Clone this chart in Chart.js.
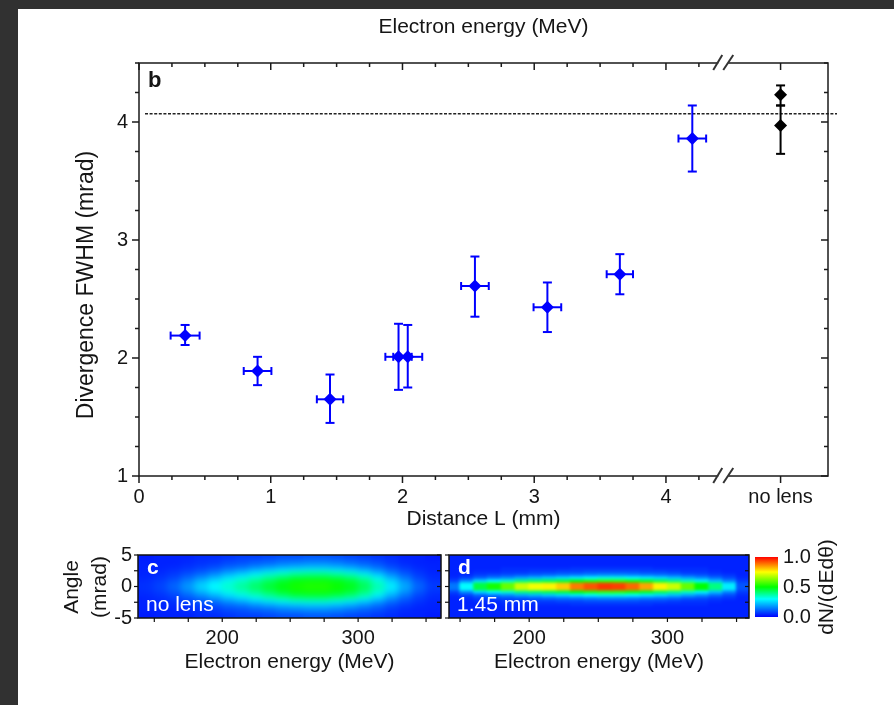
<!DOCTYPE html>
<html>
<head>
<meta charset="utf-8">
<script src="https://cdn.jsdelivr.net/npm/chart.js@4.4.1/dist/chart.umd.min.js"></script>
<style>
html, body { margin: 0; padding: 0; background: #313131; }
#page { position: relative; width: 894px; height: 705px; overflow: hidden; background: #313131; }
#sheet { position: absolute; left: 18px; top: 9px; right: 0; bottom: 0; background: #fff; }
canvas { position: absolute; }
</style>
</head>
<body>
<div id="page">
  <div id="sheet"></div>
  <canvas id="main" width="894" height="540" style="left:0;top:0"></canvas>
  <canvas id="panelC" width="445" height="165" style="left:0;top:540px"></canvas>
  <canvas id="panelD" width="307" height="165" style="left:445px;top:540px"></canvas>
  <canvas id="cbar" width="142" height="165" style="left:752px;top:540px"></canvas>
</div>
<script>
// ---- panel b : divergence vs lens distance ----
var distance   = [0.35, 0.90, 1.45, 1.97, 2.04, 2.55, 3.10, 3.65, 4.20];
var divergence = [2.19, 1.89, 1.65, 2.01, 2.01, 2.61, 2.43, 2.71, 3.86];
var divErrUp   = [0.09, 0.12, 0.21, 0.28, 0.27, 0.25, 0.21, 0.17, 0.28];
var divErrDown = [0.08, 0.12, 0.20, 0.28, 0.26, 0.26, 0.21, 0.17, 0.28];
var distErr    = [0.11, 0.105, 0.10, 0.10, 0.11, 0.105, 0.105, 0.10, 0.105];

var noLensX        = 4.87;
var noLensDiv      = [4.23, 3.97];
var noLensErrUp    = [0.08, 0.17];
var noLensErrDown  = [0.09, 0.24];
var referenceLevel = 4.07;
var breakAt        = 4.45;

var distTicks = [0, 1, 2, 3, 4];
var divTicks  = [1, 2, 3, 4];

// ---- panels c, d : angle vs energy spectra ----
var energyTicks   = [200, 300];
var angleTicks    = [-5, 0, 5];
var colorbarTicks = [0, 0.5, 1];
var energyCenters = [145, 155, 165, 175, 185, 195, 205, 215, 225, 235, 245, 255, 265, 275, 285, 295, 305, 315, 325, 335, 345, 355];
// row edges for |angle| (mrad); image is symmetric about 0
var angleEdges = [0, 0.5, 1, 1.5, 2, 2.5, 3, 4, 5];
var backgroundLevel = 0.04;

var intensityNoLens = [
  [.06,.08,.12,.18,.25,.30,.34,.38,.42,.46,.49,.52,.53,.53,.51,.48,.43,.36,.28,.20,.12,.07],
  [.05,.07,.10,.15,.21,.26,.31,.35,.39,.43,.47,.50,.51,.51,.49,.46,.41,.34,.25,.17,.10,.06],
  [.05,.06,.08,.12,.17,.22,.27,.31,.35,.39,.43,.46,.47,.47,.45,.42,.37,.30,.21,.14,.08,.05],
  [.04,.05,.07,.10,.13,.17,.22,.26,.30,.34,.37,.40,.41,.41,.39,.36,.31,.24,.17,.11,.07,.05],
  [.04,.05,.06,.08,.10,.13,.17,.20,.24,.27,.30,.32,.33,.33,.31,.28,.24,.19,.13,.09,.06,.04],
  [.04,.04,.05,.06,.08,.10,.13,.15,.18,.21,.23,.25,.26,.26,.24,.22,.18,.14,.10,.07,.05,.04],
  [.04,.04,.04,.05,.06,.07,.09,.10,.12,.13,.15,.16,.17,.17,.16,.14,.12,.10,.07,.05,.04,.04],
  [.03,.04,.04,.04,.05,.05,.06,.07,.07,.08,.09,.09,.10,.10,.09,.08,.07,.06,.05,.04,.04,.03]
];
var intensity145mm = [
  [.14,.30,.45,.52,.60,.70,.74,.76,.80,.88,.92,.95,.94,.90,.84,.76,.70,.60,.50,.40,.28,.10],
  [.08,.17,.26,.30,.34,.40,.42,.44,.46,.50,.53,.55,.55,.52,.48,.44,.40,.35,.29,.23,.16,.07],
  [.05,.08,.12,.15,.17,.20,.22,.24,.26,.28,.30,.32,.32,.30,.28,.26,.23,.20,.17,.13,.09,.05],
  [.04,.05,.07,.08,.09,.10,.11,.12,.13,.14,.15,.16,.16,.15,.14,.13,.12,.10,.09,.07,.06,.04],
  [.04,.04,.05,.05,.06,.06,.07,.07,.08,.08,.09,.09,.09,.09,.08,.08,.07,.06,.06,.05,.04,.04],
  [.04,.04,.04,.04,.05,.05,.05,.05,.05,.06,.06,.06,.06,.06,.06,.05,.05,.05,.05,.04,.04,.04],
  [.04,.04,.04,.04,.04,.04,.04,.04,.04,.04,.04,.04,.04,.04,.04,.04,.04,.04,.04,.04,.04,.04],
  [.04,.04,.04,.04,.04,.04,.04,.04,.04,.04,.04,.04,.04,.04,.04,.04,.04,.04,.04,.04,.04,.04]
];

var FONT = "'Liberation Sans', Arial, sans-serif";
var INK = '#151515';

var jetStops = [[0, 0, 0, 255], [0.3, 0, 255, 255], [0.5, 0, 255, 0], [0.75, 255, 255, 0], [1, 255, 0, 0]];
function jet(v) {
  v = Math.max(0, Math.min(1, v));
  for (var i = 1; i < jetStops.length; i++) {
    if (v <= jetStops[i][0]) {
      var a = jetStops[i - 1], b = jetStops[i], t = (v - a[0]) / (b[0] - a[0]);
      return 'rgb(' + Math.round(a[1] + (b[1] - a[1]) * t) + ',' + Math.round(a[2] + (b[2] - a[2]) * t) + ',' + Math.round(a[3] + (b[3] - a[3]) * t) + ')';
    }
  }
  return 'rgb(255,0,0)';
}

function line(ctx, x1, y1, x2, y2) {
  ctx.beginPath(); ctx.moveTo(x1, y1); ctx.lineTo(x2, y2); ctx.stroke();
}
function text(ctx, s, x, y, font, color, align, rot) {
  ctx.save();
  ctx.translate(x, y);
  if (rot) ctx.rotate(rot);
  ctx.font = font; ctx.fillStyle = color || INK;
  ctx.textAlign = align || 'center'; ctx.textBaseline = 'middle';
  ctx.fillText(s, 0, 0);
  ctx.restore();
}

// ---------- main chart ----------
var mainDecor = {
  id: 'mainDecor',
  beforeDatasetsDraw: function (chart) {
    var ctx = chart.ctx, xs = chart.scales.x, ys = chart.scales.y, a = chart.chartArea;
    ctx.save();
    ctx.strokeStyle = '#222'; ctx.lineWidth = 1.4; ctx.setLineDash([3, 1.6]);
    var yy = ys.getPixelForValue(referenceLevel);
    line(ctx, a.left + 6, yy, a.right + 9, yy);
    ctx.restore();

    chart.data.datasets.forEach(function (ds) {
      ctx.save();
      ctx.strokeStyle = ds.borderColor; ctx.lineWidth = 2;
      ds.data.forEach(function (p, i) {
        var px = xs.getPixelForValue(p.x), py = ys.getPixelForValue(p.y);
        var top = ys.getPixelForValue(p.y + ds.errUp[i]);
        var bot = ys.getPixelForValue(p.y - ds.errDown[i]);
        line(ctx, px, top, px, bot);
        line(ctx, px - 4.5, top, px + 4.5, top);
        line(ctx, px - 4.5, bot, px + 4.5, bot);
        if (ds.errX) {
          var l = xs.getPixelForValue(p.x - ds.errX[i]), r = xs.getPixelForValue(p.x + ds.errX[i]);
          line(ctx, l, py, r, py);
          line(ctx, l, py - 4, l, py + 4);
          line(ctx, r, py - 4, r, py + 4);
        }
      });
      ctx.restore();
    });
  },
  afterDraw: function (chart) {
    var ctx = chart.ctx, xs = chart.scales.x, ys = chart.scales.y, a = chart.chartArea;
    ctx.save();
    ctx.strokeStyle = '#1a1a1a'; ctx.lineWidth = 1.5;
    ctx.strokeRect(a.left, a.top, a.right - a.left, a.bottom - a.top);

    // minor / major ticks
    var v, px, major, len;
    for (v = 0; v <= 4.25 + 1e-9; v += 0.25) {
      px = xs.getPixelForValue(v); major = Math.abs(v - Math.round(v)) < 1e-6; len = major ? 7 : 4;
      line(ctx, px, a.bottom, px, a.bottom + len);
      line(ctx, px, a.top, px, a.top + len);
    }
    px = xs.getPixelForValue(noLensX);
    line(ctx, px, a.bottom, px, a.bottom + 7);
    line(ctx, px, a.top, px, a.top + 7);
    for (v = 1; v <= 4.5 + 1e-9; v += 0.25) {
      var py = ys.getPixelForValue(v); major = Math.abs(v - Math.round(v)) < 1e-6; len = major ? 7 : 4;
      line(ctx, a.left, py, a.left - len, py);
      line(ctx, a.right, py, a.right - len, py);
    }

    // axis break
    var bx = xs.getPixelForValue(breakAt);
    [a.top, a.bottom].forEach(function (yb) {
      ctx.fillStyle = '#fff';
      ctx.fillRect(bx - 7, yb - 2, 10, 4);
      ctx.strokeStyle = '#333'; ctx.lineWidth = 2;
      line(ctx, bx - 12, yb + 7, bx - 3, yb - 8);
      line(ctx, bx - 2, yb + 7, bx + 8, yb - 8);
    });
    ctx.restore();

    text(ctx, 'b', a.left + 9, 81, 'bold 22px ' + FONT, INK, 'left');
    text(ctx, 'Electron energy (MeV)', (a.left + a.right) / 2, 27, '21px ' + FONT);
    text(ctx, 'Distance L (mm)', (a.left + a.right) / 2, 519, '21px ' + FONT);
    text(ctx, 'Divergence FWHM (mrad)', 87, 285, '23px ' + FONT, INK, 'center', -Math.PI / 2);
  }
};

new Chart(document.getElementById('main'), {
  type: 'scatter',
  data: {
    datasets: [{
      data: distance.map(function (d, i) { return { x: d, y: divergence[i] }; }),
      errUp: divErrUp, errDown: divErrDown, errX: distErr,
      backgroundColor: '#0000ff', borderColor: '#0000ff',
      pointStyle: 'rectRot', pointRadius: 6.5, borderWidth: 0
    }, {
      data: noLensDiv.map(function (d) { return { x: noLensX, y: d }; }),
      errUp: noLensErrUp, errDown: noLensErrDown,
      backgroundColor: '#000', borderColor: '#000',
      pointStyle: 'rectRot', pointRadius: 6.5, borderWidth: 0
    }]
  },
  options: {
    responsive: false, animation: false,
    layout: { padding: { top: 63, right: 66, left: 0, bottom: 0 } },
    plugins: { legend: { display: false }, tooltip: { enabled: false } },
    scales: {
      x: {
        type: 'linear', min: 0, max: 5.23,
        grid: { display: false, drawTicks: false }, border: { display: false },
        afterBuildTicks: function (s) { s.ticks = distTicks.concat([noLensX]).map(function (v) { return { value: v }; }); },
        ticks: {
          padding: 9, color: INK, font: { family: FONT, size: 20 }, maxRotation: 0, autoSkip: false,
          callback: function (v) { return v === noLensX ? 'no lens' : String(v); }
        },
        afterFit: function (s) { s.height = 64; }
      },
      y: {
        min: 1, max: 4.5,
        grid: { display: false, drawTicks: false }, border: { display: false },
        afterBuildTicks: function (s) { s.ticks = divTicks.map(function (v) { return { value: v }; }); },
        ticks: { padding: 11, color: INK, font: { family: FONT, size: 20 } },
        afterFit: function (s) { s.width = 139; }
      }
    }
  },
  plugins: [mainDecor]
});

// ---------- spectra ----------
function heatmapDecor(label, note, withAngleTitle, softness) {
  return {
    id: 'heatDecor',
    beforeDatasetsDraw: function (chart) {
      var a = chart.chartArea, ctx = chart.ctx;
      ctx.save(); ctx.fillStyle = jet(backgroundLevel);
      ctx.fillRect(a.left, a.top, a.right - a.left, a.bottom - a.top);
      ctx.restore();
    },
    afterDatasetsDraw: function (chart) {
      // soften the cell edges, like the detector image
      var a = chart.chartArea, ctx = chart.ctx;
      var w = Math.round(a.right - a.left), h = Math.round(a.bottom - a.top);
      var l = Math.round(a.left), t = Math.round(a.top);
      var tmp = document.createElement('canvas');
      tmp.width = w; tmp.height = h;
      tmp.getContext('2d').drawImage(chart.canvas, l, t, w, h, 0, 0, w, h);
      ctx.save();
      ctx.beginPath(); ctx.rect(a.left, a.top, a.right - a.left, a.bottom - a.top); ctx.clip();
      ctx.filter = 'blur(' + softness + 'px)';
      ctx.drawImage(tmp, l, t);
      ctx.restore();
    },
    afterDraw: function (chart) {
      var ctx = chart.ctx, xs = chart.scales.x, ys = chart.scales.y, a = chart.chartArea;
      ctx.save();
      ctx.strokeStyle = '#111'; ctx.lineWidth = 1.5;
      ctx.strokeRect(a.left, a.top, a.right - a.left, a.bottom - a.top);
      ctx.lineWidth = 1.2;
      for (var e = 150; e <= 350; e += 25) {
        var px = xs.getPixelForValue(e);
        line(ctx, px, a.bottom, px, a.bottom + 4);
      }
      [-5, -2.5, 0, 2.5, 5].forEach(function (v) {
        var py = ys.getPixelForValue(v);
        line(ctx, a.right, py, a.right - 4, py);
        line(ctx, a.left, py, a.left - 4, py);
      });
      ctx.restore();
      text(ctx, label, a.left + 9, a.top + 13, 'bold 21px ' + FONT, '#fff', 'left');
      text(ctx, note, a.left + 8, a.top + 50, '21px ' + FONT, '#fff', 'left');
      text(ctx, 'Electron energy (MeV)', (a.left + a.right) / 2, 122, '21px ' + FONT);
      if (withAngleTitle) {
        text(ctx, 'Angle', 72, 47, '21px ' + FONT, INK, 'center', -Math.PI / 2);
        text(ctx, '(mrad)', 100, 47, '21px ' + FONT, INK, 'center', -Math.PI / 2);
      }
    }
  };
}

function heatmap(id, table, eMin, eMax, pad, yWidth, label, note, softness) {
  var datasets = [];
  for (var k = 0; k < angleEdges.length - 1; k++) {
    var lo = angleEdges[k], hi = angleEdges[k + 1], colors = table[k].map(jet);
    [[lo, hi], [-hi, -lo]].forEach(function (span) {
      datasets.push({
        data: energyCenters.map(function (e) { return { x: e, y: span }; }),
        backgroundColor: colors, borderWidth: 0, grouped: false,
        barPercentage: 1, categoryPercentage: 1, inflateAmount: 0.7
      });
    });
  }
  new Chart(document.getElementById(id), {
    type: 'bar',
    data: { datasets: datasets },
    options: {
      responsive: false, animation: false,
      layout: { padding: pad },
      plugins: { legend: { display: false }, tooltip: { enabled: false } },
      scales: {
        x: {
          type: 'linear', min: eMin, max: eMax, offset: false,
          grid: { display: false, drawTicks: false }, border: { display: false },
          afterBuildTicks: function (s) { s.ticks = energyTicks.map(function (v) { return { value: v }; }); },
          ticks: { padding: 8, color: INK, font: { family: FONT, size: 20 }, maxRotation: 0 },
          afterFit: function (s) { s.height = 87; s.paddingLeft = 0; s.paddingRight = 0; }
        },
        y: {
          type: 'linear', min: -5, max: 5, display: yWidth > 0,
          grid: { display: false, drawTicks: false }, border: { display: false },
          afterBuildTicks: function (s) { s.ticks = angleTicks.map(function (v) { return { value: v }; }); },
          ticks: { padding: 6, color: INK, font: { family: FONT, size: 20 } },
          afterFit: function (s) { s.width = yWidth; s.paddingTop = 0; s.paddingBottom = 0; }
        }
      }
    },
    plugins: [heatmapDecor(label, note, yWidth > 0, softness)]
  });
}

heatmap('panelC', intensityNoLens, 138, 361, { top: 15, right: 4, left: 0, bottom: 0 }, 138, 'c', 'no lens', 3.5);
heatmap('panelD', intensity145mm, 142, 359, { top: 15, right: 3, left: 4, bottom: 0 }, 0, 'd', '1.45 mm', 1.8);

// ---------- colour bar ----------
new Chart(document.getElementById('cbar'), {
  type: 'bar',
  data: {
    datasets: [{
      data: [{ x: 0, y: [0, 1] }],
      barPercentage: 1, categoryPercentage: 1, borderWidth: 0,
      backgroundColor: function (c) {
        var a = c.chart.chartArea;
        if (!a) return jet(0.5);
        var g = c.chart.ctx.createLinearGradient(0, a.bottom, 0, a.top);
        jetStops.forEach(function (s) { g.addColorStop(s[0], 'rgb(' + s[1] + ',' + s[2] + ',' + s[3] + ')'); });
        return g;
      }
    }]
  },
  options: {
    responsive: false, animation: false,
    layout: { padding: { left: 3, top: 17, bottom: 88, right: 0 } },
    plugins: { legend: { display: false }, tooltip: { enabled: false } },
    scales: {
      x: { type: 'linear', min: -0.5, max: 0.5, display: false, offset: false },
      y: {
        position: 'right', min: 0, max: 1,
        grid: { display: false, drawTicks: false }, border: { display: false },
        afterBuildTicks: function (s) { s.ticks = colorbarTicks.map(function (v) { return { value: v }; }); },
        ticks: { padding: 5, color: INK, font: { family: FONT, size: 20 }, callback: function (v) { return v.toFixed(1); } },
        afterFit: function (s) { s.width = 116; s.paddingTop = 0; s.paddingBottom = 0; }
      }
    }
  },
  plugins: [{
    id: 'cbTitle',
    afterDraw: function (chart) {
      text(chart.ctx, 'dN/(dEd\u03b8)', 75, 47, '21px ' + FONT, INK, 'center', -Math.PI / 2);
    }
  }]
});
</script>
</body>
</html>
